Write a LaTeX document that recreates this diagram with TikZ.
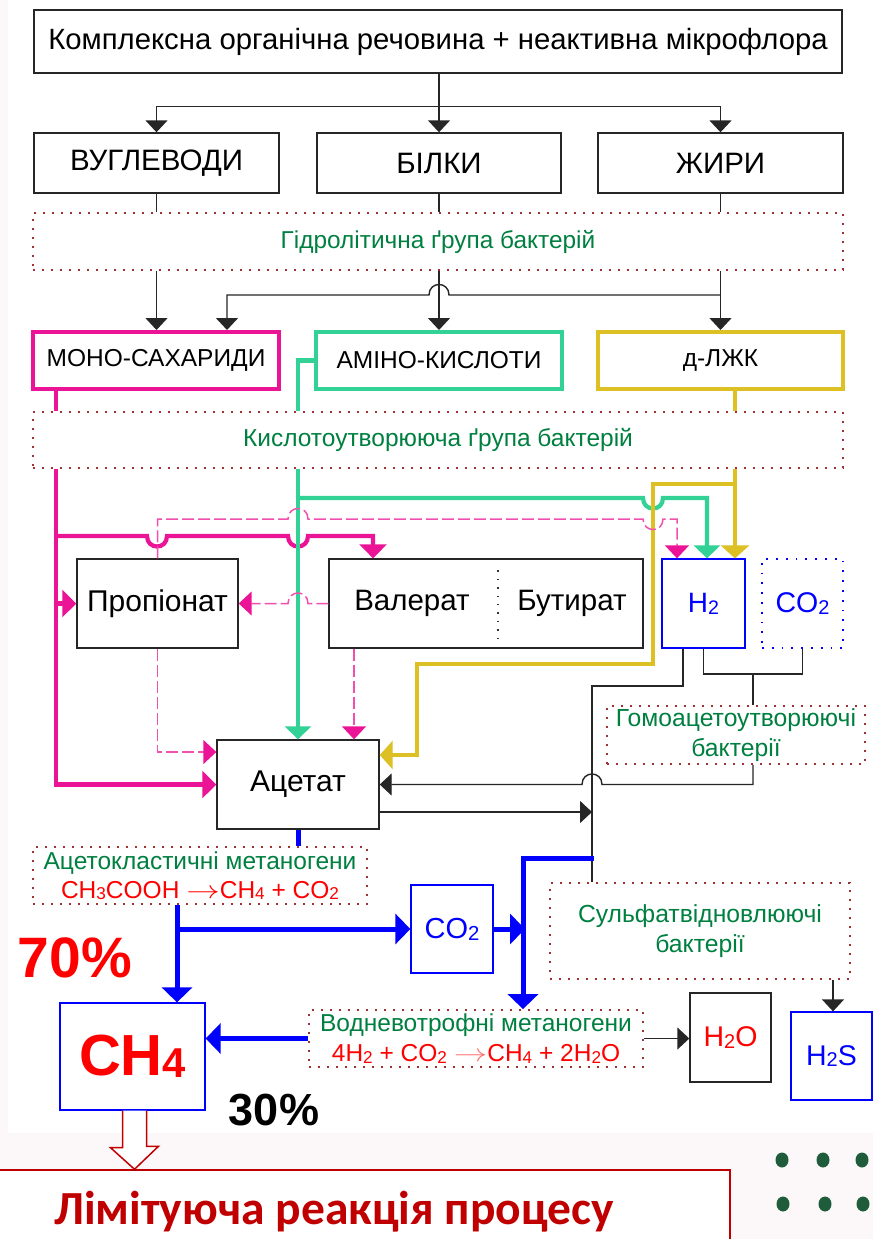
\documentclass[tikz,border=0pt]{standalone}
\usepackage{graphicx}
\usepackage{fontspec}
\setmainfont{Liberation Sans}
\newfontfamily\carlito{Carlito}
\usetikzlibrary{arrows.meta}
\definecolor{mypink}{RGB}{236,20,150}
\definecolor{dpink}{RGB}{242,80,175}
\definecolor{teal2}{RGB}{50,210,150}
\definecolor{yel}{RGB}{220,192,36}
\definecolor{grn}{RGB}{0,128,64}
\definecolor{dotred}{RGB}{160,50,50}
\definecolor{limred}{RGB}{192,0,0}
\definecolor{bgpink}{RGB}{252,248,250}
\definecolor{dotgrn}{RGB}{30,92,60}
\definecolor{bblue}{RGB}{0,0,255}
\definecolor{rred}{RGB}{255,0,0}
\newcommand\fsz[2]{\fontsize{#1}{#2}\selectfont}
\newcommand\sbs[1]{\raisebox{-0.12ex}{\scalebox{0.7}{#1}}}
\newcommand\rarr{\scalebox{1.35}[1]{$\rightarrow$}}
\begin{document}
\begin{tikzpicture}[x=1pt,y=-1pt,
 box/.style={draw=black!85,line width=1.4pt,inner sep=0pt,text=black},
 cbox/.style={draw=#1,line width=4pt,inner sep=0pt,text=black,font=\fsz{24.5}{28}},
 dbox/.style={draw=dotred,line width=1.8pt,dash pattern=on 1.8pt off 7.2pt,inner sep=0pt,text=grn,align=center},
 bbox/.style={draw=bblue,line width=1.3pt,inner sep=0pt},
 blkl/.style={line width=1.4pt,draw=black!85},
 blk/.style={blkl,-{Triangle[width=22pt,length=12pt]}},
 pnkl/.style={line width=4.2pt,draw=mypink},
 pnk/.style={pnkl,-{Triangle[width=27pt,length=14pt]}},
 tll/.style={line width=4.2pt,draw=teal2},
 tl/.style={tll,-{Triangle[width=26pt,length=13pt]}},
 yll/.style={line width=4.2pt,draw=yel},
 yl/.style={yll,-{Triangle[width=28pt,length=13pt]}},
 pdash/.style={line width=1.5pt,draw=dpink,dash pattern=on 12pt off 4pt,-{Triangle[width=24pt,length=13pt,color=mypink,fill=mypink]}},
 bll/.style={line width=5pt,draw=bblue},
 bl/.style={bll,-{Triangle[width=30pt,length=15pt]}},
]
\useasboundingbox (0,0) rectangle (873,1239);
\fill[bgpink] (0,0) rectangle (873,1239);
\fill[white] (8,0) rectangle (873,1133);

% ---------- nodes ----------
\node[box,minimum width=808pt,minimum height=63pt,font=\fsz{29.3}{32}] (top) at (438,41.5) {Комплексна органічна речовина + неактивна мікрофлора};
\node[box,minimum width=245pt,minimum height=60pt,font=\fsz{29.5}{32}] (vugl) at (156.5,163) {ВУГЛЕВОДИ};
\node[box,minimum width=244pt,minimum height=60pt,font=\fsz{29.5}{32}] (bilky) at (439,163) {БІЛКИ};
\node[box,minimum width=245pt,minimum height=60pt,font=\fsz{29.5}{32}] (zhyry) at (720.5,163) {ЖИРИ};
\node[dbox,minimum width=810pt,minimum height=57pt,font=\fsz{24.4}{28}] (hydro) at (438,241.5) {Гідролітична ґрупа бактерій};
\node[cbox=mypink,minimum width=246pt,minimum height=57pt] (mono) at (156,360.5) {МОНО-САХАРИДИ};
\node[cbox=teal2,minimum width=246pt,minimum height=57pt] (amino) at (439,360.5) {АМІНО-КИСЛОТИ};
\node[cbox=yel,minimum width=245pt,minimum height=57pt] (dlzhk) at (720.5,360.5) {д-ЛЖК};
\node[dbox,minimum width=810pt,minimum height=56pt,font=\fsz{24.5}{28}] (kyslo) at (438,440) {Кислотоутворююча ґрупа бактерій};
\node[box,minimum width=161pt,minimum height=89pt,font=\fsz{30}{32}] (prop) at (157.5,603.5) {Пропіонат};
\node[box,minimum width=314pt,minimum height=89pt] (valbut) at (486,603.5) {};
\node[font=\fsz{29.5}{32}] (val) at (412,603.5) {Валерат};
\node[font=\fsz{29.5}{32}] (but) at (572,603.5) {Бутират};
\draw[black!80,line width=1.4pt,dash pattern=on 1.4pt off 7pt] (valbut.north -| 498,0) ++(0,12) -- ([yshift=11pt]valbut.south -| 498,0);
\node[bbox,minimum width=83pt,minimum height=89pt,text=bblue,font=\fsz{28}{30}] (h2) at (703.5,603.5) {H\sbs{2}};
\node[draw=bblue,line width=1.8pt,dash pattern=on 1.8pt off 8pt,inner sep=0pt,minimum width=81pt,minimum height=89pt,text=bblue,font=\fsz{28.5}{30}] (co2a) at (802.5,603.5) {CO\sbs{2}};
\node[dbox,minimum width=258pt,minimum height=58pt,font=\fsz{24.7}{30}] (homo) at (736,735) {Гомоацетоутворюючі\\бактерії};
\node[box,minimum width=162pt,minimum height=89pt,font=\fsz{30}{32}] (acet) at (298,784.5) {Ацетат};
\node[dbox,minimum width=334pt,minimum height=57pt,font=\fsz{24.5}{29}] (aceto) at (200,875.5) {Ацетокластичні метаногени\\\textcolor{rred}{CH\sbs{3}COOH \rarr CH\sbs{4} + CO\sbs{2}}};
\node[bbox,minimum width=82pt,minimum height=88pt,text=bblue,font=\fsz{29}{30}] (co2b) at (452,929) {CO\sbs{2}};
\node[dbox,minimum width=300pt,minimum height=96pt,font=\fsz{24.7}{30}] (sulf) at (700,931) {Сульфатвідновлюючі\\бактерії};
\node[dbox,minimum width=334pt,minimum height=57pt,font=\fsz{24.5}{30}] (vodn) at (476,1038.5) {Водневотрофні метаногени\\\textcolor{rred}{4H\sbs{2} + CO\sbs{2} {\color{rred!55}\rarr}CH\sbs{4} + 2H\sbs{2}O}};
\node[box,minimum width=81pt,minimum height=89pt,text=rred,font=\fsz{28.5}{30}] (h2o) at (730.5,1037.5) {H\sbs{2}O};
\node[bbox,minimum width=81pt,minimum height=88pt,text=bblue,font=\fsz{28.5}{30}] (h2s) at (831.5,1056) {H\sbs{2}S};
\node[bbox,minimum width=145pt,minimum height=107pt,text=rred,font=\bfseries\fsz{58}{60}] (ch4) at (132.5,1056.5) {CH\raisebox{-0.05ex}{\scalebox{0.72}{4}}};
\node[text=rred,font=\bfseries\fsz{57}{60}] (p70) at (75,958) {70\%};
\node[text=black,font=\bfseries\fsz{45}{50}] (p30) at (274,1110) {30\%};

% limiting reaction box and hollow arrow
\node[draw=limred,line width=1.5pt,fill=white,minimum width=740pt,minimum height=90pt,inner sep=0pt] (limbox) at (360,1215) {};
\node[text=limred,font=\carlito\bfseries\fsz{47.5}{50}] (limtxt) at (334,1212) {Лімітуюча реакція процесу};
\draw[limred,line width=1.5pt,fill=white,line join=miter] ([xshift=-10pt]ch4.south) -- ++(0,37) -- ++(-12,0) -- ([xshift=2pt]limbox.north -| ch4.south) -- ++(24,-23) -- ++(-12,0) -- ([xshift=14pt]ch4.south);

% dots
\foreach \px/\py in {782/1160,823/1160,862/1160,783/1204,825/1204,863/1204}
  \fill[dotgrn] (\px,\py) ellipse (6.5pt and 7.5pt);

% ---------- connectors ----------
\draw[blk] (top.south -| bilky.north) -- (bilky.north);
\draw[blk] (top.south -| bilky.north) -- ++(0,33) -| (vugl.north);
\draw[blk] (top.south -| bilky.north) -- ++(0,33) -| (zhyry.north);
\foreach \n in {vugl,bilky,zhyry} \draw[blkl] (\n.south) -- (\n.south |- hydro.north);
\draw[blk] (vugl.south |- hydro.south) -- (vugl.south |- mono.north);
\draw[blk] (bilky.south |- hydro.south) -- (bilky.south |- amino.north);
\draw[blk] (zhyry.south |- hydro.south) -- (zhyry.south |- dlzhk.north);
\draw[blk] (zhyry.south |- 0,295) -- (449,295) .. controls (449,281) and (429,281) .. (429,295) -- (227,295) -- (227,295 |- mono.north);

% pink (monosaccharides)
\draw[pnkl] (mono.south -| 56,0) -- (kyslo.north -| 56,0);
\draw[pnk] (kyslo.south -| 56,0) |- (acet.west);
\draw[pnk] (prop.west -| 56,0) -- (prop.west);
\draw[pnk] (56,536) -- (147,536) .. controls (147,550) and (167,550) .. (167,536) -- (288,536) .. controls (288,550) and (308,550) .. (308,536) -- (373,536) -- (373,536 |- valbut.north);

% teal (amino acids)
\draw[tll] (amino.west) -- (298,360.5) -- (acet.north |- kyslo.north);
\draw[tl] (acet.north |- kyslo.south) -- (acet.north);
\draw[tl] (298,498) -- (643,498) .. controls (643,512) and (663,512) .. (663,498) -- (707,498) -- (707,498 |- h2.north);

% yellow (fatty acids)
\draw[yll] (dlzhk.south -| 735,0) -- (kyslo.north -| 735,0);
\draw[yl] (kyslo.south -| 735,0) -- (735,0 |- h2.north);
\draw[yl] (735,484) -- (653,484) -- (653,664) -- (417,664) -- (417,755) -- (acet.east |- 0,755);

% pink dashed
\draw[pdash] (prop.north) -- (157.5,519) -- (288,519) .. controls (288,505) and (308,505) .. (308,519) -- (643,519) .. controls (643,533) and (663,533) .. (663,519) -- (677,519) -- (677,519 |- h2.north);
\draw[pdash] (valbut.west) -- (308,603.5) .. controls (308,589.5) and (288,589.5) .. (288,603.5) -- (prop.east);
\draw[pdash] (prop.south) |- (acet.west |- 0,752);
\draw[pdash] (valbut.south -| 354,0) -- (354,0 |- acet.north);

% black lower network
\draw[blkl] (h2.south -| 683,0) |- (592,686) -- (592,0 |- sulf.north);
\draw[blkl] (h2.south) |- (co2a.south |- 0,674) -- (co2a.south);
\draw[blkl] (753,674) -- (homo.north -| 753,0);
\draw[blk] (homo.south -| 753,0) -- (753,784.5) -- (602,784.5) .. controls (602,770.5) and (582,770.5) .. (582,784.5) -- (acet.east);
\draw[blk] (acet.east |- 0,812) -- (592,812);

% blue
\draw[bll] (acet.south) -- (acet.south |- aceto.north);
\draw[bl] (aceto.south -| 177,0) -- (177,0 |- ch4.north);
\draw[bl] (177,929) -- (co2b.west);
\draw[bl] (co2b.east) -- (525,929);
\draw[bl] (594,858) -- (523,858) -- (523,0 |- vodn.north);
\draw[bl] (vodn.west) -- (ch4.east |- vodn.west);
\draw[blk] (vodn.east) -- (h2o.west |- vodn.east);
\draw[blk] (sulf.south -| 833,0) -- (833,0 |- h2s.north);
\end{tikzpicture}
\end{document}
